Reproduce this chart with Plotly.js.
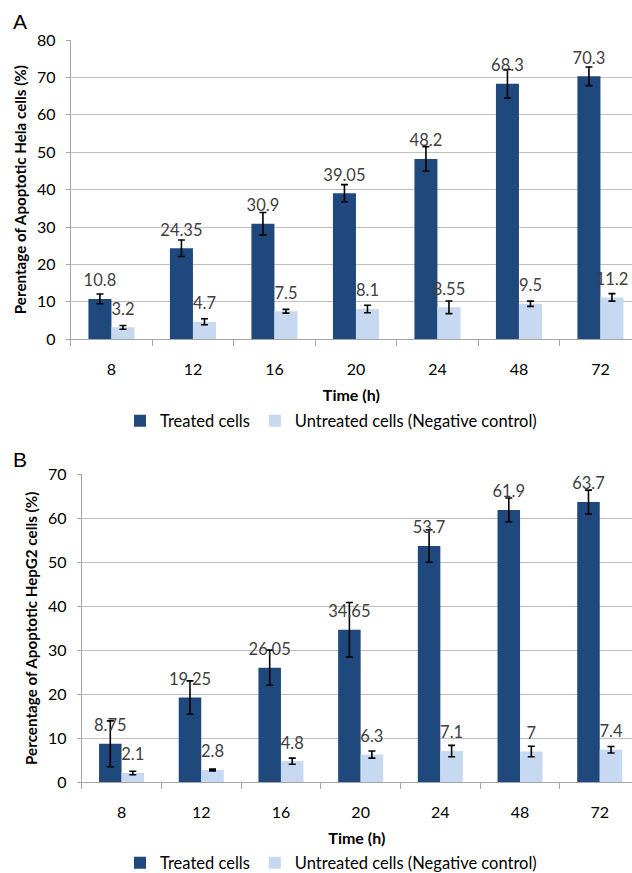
<!DOCTYPE html>
<html>
<head>
<meta charset="utf-8">
<script src="https://cdn.plot.ly/plotly-3.0.1.min.js"></script>
<style>html,body{margin:0;padding:0;background:#fff;}#chart{width:632px;height:873px;}</style>
</head>
<body>
<div id="chart"></div>
<script>
// ---- data ----
const timeLabels = ['8', '12', '16', '20', '24', '48', '72'];

const helaTreated      = [10.8, 24.35, 30.9, 39.05, 48.2, 68.3, 70.3];
const helaTreatedErr   = [1.3, 2.2, 3.0, 2.3, 3.3, 3.8, 2.5];
const helaUntreated    = [3.2, 4.7, 7.5, 8.1, 8.55, 9.5, 11.2];
const helaUntreatedErr = [0.5, 0.8, 0.5, 1.0, 1.7, 0.7, 1.0];

const hepTreated      = [8.75, 19.25, 26.05, 34.65, 53.7, 61.9, 63.7];
const hepTreatedErr   = [5.2, 3.8, 4.0, 6.2, 3.7, 2.7, 2.7];
const hepUntreated    = [2.1, 2.8, 4.8, 6.3, 7.1, 7, 7.4];
const hepUntreatedErr = [0.4, 0.2, 0.7, 0.8, 1.3, 1.2, 0.75];

const seriesNames = ['Treated cells', 'Untreated cells (Negative control)'];

// ---- style ----
const FONT = 'Lato, "Open Sans", sans-serif';
const DARK = '#1f497d';
const LIGHT = '#c6d9f1';
const W = 632, H = 873;

function barTrace(name, y, err, color, xa, ya, legend) {
  return {
    type: 'bar', name: name, x: timeLabels, y: y,
    xaxis: xa, yaxis: ya, legend: legend,
    marker: {color: color},
    offsetgroup: name,
    error_y: {type: 'data', array: err, visible: true, color: '#000', thickness: 1.6, width: 3.5},
    hoverinfo: 'skip'
  };
}
function labelTrace(name, y, xa, ya) {
  return {
    type: 'scatter', mode: 'markers+text', x: timeLabels, y: y,
    xaxis: xa, yaxis: ya, showlegend: false,
    offsetgroup: name,
    marker: {size: 12, opacity: 0, color: '#fff'},
    text: y.map(String), textposition: 'top center',
    textfont: {family: FONT, size: 16.5, color: '#404040'},
    cliponaxis: false, hoverinfo: 'skip'
  };
}

const data = [
  barTrace(seriesNames[0], helaTreated, helaTreatedErr, DARK, 'x', 'y', 'legend'),
  barTrace(seriesNames[1], helaUntreated, helaUntreatedErr, LIGHT, 'x', 'y', 'legend'),
  labelTrace(seriesNames[0], helaTreated, 'x', 'y'),
  labelTrace(seriesNames[1], helaUntreated, 'x', 'y'),
  barTrace(seriesNames[0], hepTreated, hepTreatedErr, DARK, 'x2', 'y2', 'legend2'),
  barTrace(seriesNames[1], hepUntreated, hepUntreatedErr, LIGHT, 'x2', 'y2', 'legend2'),
  labelTrace(seriesNames[0], hepTreated, 'x2', 'y2'),
  labelTrace(seriesNames[1], hepUntreated, 'x2', 'y2')
];

function xAxis(left, catW, anchor) {
  const plotW = W - left;
  return {
    domain: [left / W, 1], anchor: anchor, type: 'category',
    range: [-0.5, -0.5 + plotW / catW],
    tickson: 'boundaries', ticks: 'outside', ticklen: 6, tickcolor: '#a6a6a6', tickwidth: 1,
    showline: true, linecolor: '#a6a6a6', linewidth: 1, showgrid: false, zeroline: false,
    tickfont: {family: FONT, size: 16, color: '#000'}, ticklabelstandoff: 15,
    title: {text: '<b>Time (h)</b>', font: {family: FONT, size: 16, color: '#000'}, standoff: 13},
    automargin: false, fixedrange: true
  };
}
function yAxis(top, bottom, max, title, anchor) {
  return {
    domain: [(H - bottom) / H, (H - top) / H], anchor: anchor,
    range: [0, max], dtick: 10, tick0: 0,
    ticks: 'outside', ticklen: 4, tickcolor: '#a6a6a6',
    showline: true, linecolor: '#a6a6a6', linewidth: 1,
    showgrid: true, gridcolor: '#bfbfbf', gridwidth: 1, zeroline: false,
    tickfont: {family: FONT, size: 16, color: '#000'}, ticklabelstandoff: 7,
    title: {text: '<b>' + title + '</b>', font: {family: FONT, size: 15.2, color: '#000'}, standoff: 6},
    automargin: false, fixedrange: true
  };
}

const layout = {
  width: W, height: H,
  margin: {l: 0, r: 0, t: 0, b: 0, autoexpand: false},
  paper_bgcolor: '#fff', plot_bgcolor: '#fff',
  barmode: 'group', bargap: 0.435, bargroupgap: 0,
  scattermode: 'group', scattergap: 0.435,
  font: {family: FONT, size: 16, color: '#000'},
  xaxis: xAxis(70.7, 81.5, 'y'),
  yaxis: yAxis(40, 339.3, 80, 'Perentage of Apoptotic Hela cells (%)', 'x'),
  xaxis2: xAxis(81.7, 79.7, 'y2'),
  yaxis2: yAxis(474.3, 782.3, 70, 'Percentage of Apoptotic HepG2 cells (%)', 'x2'),
  legend: {orientation: 'h', x: 120 / W, xanchor: 'left', y: (H - 421) / H, yanchor: 'middle',
           font: {family: FONT, size: 16.5, color: '#000'}, bgcolor: 'rgba(0,0,0,0)', traceorder: 'normal'},
  legend2: {orientation: 'h', x: 120 / W, xanchor: 'left', y: (H - 863) / H, yanchor: 'middle',
            font: {family: FONT, size: 16.5, color: '#000'}, bgcolor: 'rgba(0,0,0,0)', traceorder: 'normal'},
  annotations: [
    {text: 'A', xref: 'paper', yref: 'paper', x: 11 / W, y: (H - 8) / H, xanchor: 'left', yanchor: 'top',
     showarrow: false, font: {family: '"Liberation Sans", Arial, sans-serif', size: 21, color: '#000'}},
    {text: 'B', xref: 'paper', yref: 'paper', x: 11 / W, y: (H - 446) / H, xanchor: 'left', yanchor: 'top',
     showarrow: false, font: {family: '"Liberation Sans", Arial, sans-serif', size: 21, color: '#000'}}
  ]
};

Plotly.newPlot('chart', data, layout, {staticPlot: true, displayModeBar: false});
</script>
</body>
</html>
